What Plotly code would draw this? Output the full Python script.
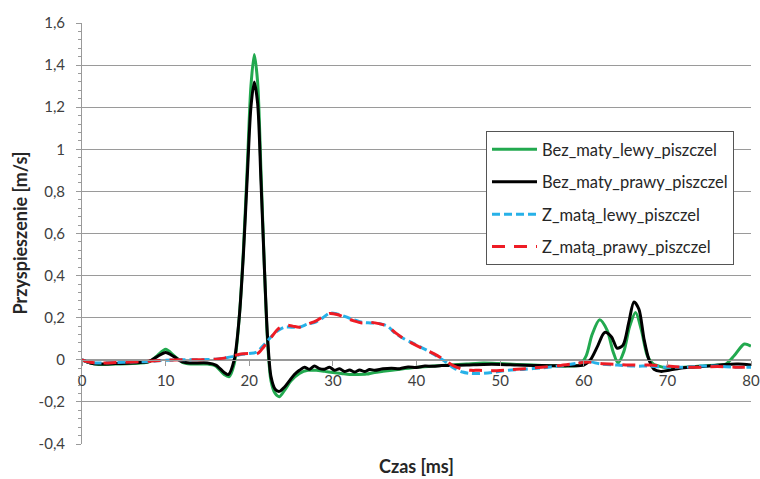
import plotly.graph_objects as go

# Time axis [ms] and acceleration readings [m/s] for each series
green_x = [0, 1, 2, 4, 6, 8, 9, 10, 11, 12, 13, 15, 16, 17, 17.6, 18.2, 18.8, 19.3, 19.8, 20.2,
           20.6, 21.0, 21.4, 21.8, 22.2, 22.6, 23.1, 23.6, 24.3, 25, 26, 27, 28, 29, 30, 31, 32,
           33, 34, 35, 36, 38, 40, 42, 44, 46, 48, 50, 52, 54, 56, 58, 59.5, 60.3, 61, 61.9, 62.8,
           63.5, 64.1, 64.8, 65.5, 66.2, 66.9, 67.6, 68.3, 69, 70, 72, 74, 76, 77, 78, 79.2, 80]
green_y = [0, -0.015, -0.022, -0.02, -0.018, -0.01, 0.02, 0.05, 0.02, -0.012, -0.02, -0.02, -0.03,
           -0.07, -0.08, -0.02, 0.2, 0.52, 0.95, 1.3, 1.45, 1.32, 0.9, 0.45, 0.08, -0.1, -0.16,
           -0.175, -0.14, -0.1, -0.065, -0.05, -0.05, -0.055, -0.06, -0.065, -0.07, -0.07, -0.068,
           -0.06, -0.055, -0.045, -0.035, -0.03, -0.025, -0.02, -0.015, -0.018, -0.022, -0.025,
           -0.028, -0.03, -0.025, 0.02, 0.12, 0.19, 0.14, 0.04, -0.015, 0.04, 0.16, 0.225, 0.14,
           0.02, -0.02, -0.03, -0.04, -0.035, -0.03, -0.025, -0.02, 0.02, 0.075, 0.065]

black_x = [0, 1, 2, 4, 6, 8, 9, 10, 11, 12, 13, 15, 16, 17, 17.5, 18.2, 18.8, 19.3, 19.8, 20.2,
           20.6, 21.0, 21.4, 21.8, 22.2, 22.6, 23.1, 23.6, 24.2, 24.8, 25.4, 26, 26.6, 27.2, 27.8,
           28.4, 29, 29.6, 30.2, 30.8, 31.4, 32, 32.6, 33.2, 33.8, 34.4, 35, 36, 37, 38, 39, 40,
           41, 42, 43, 44, 46, 48, 50, 52, 54, 56, 58, 60, 60.8, 61.6, 62.5, 63.3, 64.0, 64.7,
           65.4, 66.0, 66.6, 67.2, 67.8, 68.4, 69.2, 70.2, 71.5, 73, 75, 77, 78.5, 80]
black_y = [0, -0.015, -0.02, -0.018, -0.015, -0.008, 0.015, 0.035, 0.015, -0.01, -0.015, -0.015,
           -0.025, -0.06, -0.07, 0.0, 0.2, 0.5, 0.9, 1.2, 1.32, 1.22, 0.85, 0.45, 0.1, -0.08,
           -0.14, -0.15, -0.13, -0.1, -0.07, -0.05, -0.035, -0.045, -0.03, -0.042, -0.045, -0.035,
           -0.05, -0.042, -0.056, -0.048, -0.058, -0.048, -0.056, -0.046, -0.05, -0.043, -0.04,
           -0.042, -0.034, -0.036, -0.03, -0.031, -0.027, -0.027, -0.025, -0.022, -0.022, -0.025,
           -0.027, -0.028, -0.028, -0.025, 0.0, 0.06, 0.13, 0.11, 0.055, 0.07, 0.18, 0.275, 0.24,
           0.1, 0.0, -0.045, -0.055, -0.05, -0.04, -0.035, -0.03, -0.022, -0.02, -0.025]

blue_x = [0, 1, 2, 4, 6, 8, 10, 12, 14, 16, 17, 18, 19, 20, 20.8, 21.5, 22.4, 23.3, 24.2, 25,
          26, 27, 28, 28.8, 29.6, 30.5, 31.5, 32.5, 33.5, 34.5, 35.5, 36.5, 37.5, 38.5, 39.5,
          40.5, 41.5, 42.5, 43.5, 44.5, 45.5, 46.5, 47.5, 49, 51, 53, 55, 57, 59, 60.5, 62, 64,
          66, 68, 70, 72, 74, 76, 78, 80]
blue_y = [0, -0.012, -0.015, -0.013, -0.01, -0.008, -0.002, 0, 0, 0.003, 0.008, 0.015, 0.025,
          0.03, 0.035, 0.06, 0.1, 0.135, 0.155, 0.155, 0.155, 0.17, 0.18, 0.2, 0.222, 0.218,
          0.205, 0.19, 0.178, 0.175, 0.172, 0.16, 0.125, 0.1, 0.08, 0.06, 0.04, 0.015, -0.01,
          -0.04, -0.058, -0.065, -0.065, -0.06, -0.05, -0.045, -0.038, -0.03, -0.018, -0.008,
          -0.02, -0.025, -0.03, -0.03, -0.035, -0.035, -0.03, -0.03, -0.035, -0.035]

red_x = [0, 1, 2, 4, 6, 8, 10, 12, 14, 16, 17, 18, 19, 20, 21, 21.7, 22.5, 23.4, 24.3, 25.2,
         26, 27, 28, 28.8, 29.6, 30.5, 31.5, 32.5, 33.5, 34.5, 35.5, 36.5, 37.5, 38.5, 39.5,
         40.5, 41.5, 42.5, 43.5, 44.5, 45.5, 46.5, 47.5, 49, 51, 53, 55, 57, 59, 60.5, 62, 64,
         66, 68, 70, 72, 74, 76, 78, 80]
red_y = [0, -0.012, -0.015, -0.013, -0.01, -0.007, -0.002, 0, 0, 0.003, 0.008, 0.018, 0.028,
         0.03, 0.03, 0.06, 0.1, 0.145, 0.165, 0.16, 0.155, 0.17, 0.185, 0.205, 0.22, 0.215, 0.2,
         0.185, 0.175, 0.178, 0.172, 0.16, 0.128, 0.1, 0.078, 0.058, 0.04, 0.02, -0.005, -0.03,
         -0.045, -0.05, -0.05, -0.052, -0.048, -0.042, -0.035, -0.028, -0.018, -0.01, -0.018,
         -0.022, -0.025, -0.025, -0.03, -0.035, -0.035, -0.032, -0.035, -0.035]

series_names = ["Bez_maty_lewy_piszczel", "Bez_maty_prawy_piszczel",
                "Z_matą_lewy_piszczel", "Z_matą_prawy_piszczel"]

y_tick_vals = [-0.4, -0.2, 0, 0.2, 0.4, 0.6, 0.8, 1.0, 1.2, 1.4, 1.6]
y_tick_text = ["-0,4", "-0,2", "0", "0,2", "0,4", "0,6", "0,8", "1", "1,2", "1,4", "1,6"]
x_tick_vals = [0, 10, 20, 30, 40, 50, 60, 70, 80]
x_tick_text = ["0", "10", "20", "30", "40", "50", "60", "70", "80"]

FONT = "Lato"
TEXT = "#404040"
GRID = "#9a9a9a"

# plot area edges in pixels
LEFT, RIGHT, TOP, BOTTOM = 82, 751, 23, 444
PW, PH = RIGHT - LEFT, BOTTOM - TOP

fig = go.Figure()
styles = [
    (green_x, green_y, dict(color="#22a94f", width=3)),
    (black_x, black_y, dict(color="#000000", width=3)),
    (blue_x, blue_y, dict(color="#27b1e8", width=3, dash="8px,4px")),
    (red_x, red_y, dict(color="#ee1c25", width=3, dash="13px,9px")),
]
for i, (xs, ys, ln) in enumerate(styles):
    ln = dict(ln, shape="spline", smoothing=0.8)
    fig.add_trace(go.Scatter(x=xs, y=ys, mode="lines", name=series_names[i],
                             legendgroup=f"g{i}", line=ln))

fig.update_layout(
    width=760, height=479,
    margin=dict(l=LEFT, r=760 - RIGHT, t=TOP, b=479 - BOTTOM, autoexpand=False),
    paper_bgcolor="white", plot_bgcolor="white",
    font=dict(family=FONT, color=TEXT, size=15),
    showlegend=True,
    legend=dict(
        x=(486 - LEFT) / PW, y=(BOTTOM - 131) / PH, xanchor="left", yanchor="top",
        bgcolor="white", bordercolor="#555555", borderwidth=1,
        font=dict(family=FONT, size=16.5, color="#262626"),
        traceorder="grouped", tracegroupgap=8, itemwidth=45,
    ),
    xaxis=dict(
        range=[0, 80], tickvals=x_tick_vals, ticktext=x_tick_text,
        anchor="free", position=0.2, showline=True, linecolor=GRID, linewidth=1,
        ticks="outside", ticklen=5, tickcolor=GRID, showgrid=False, zeroline=False,
        tickfont=dict(family=FONT, size=15, color=TEXT), ticklabelstandoff=2,
        ticklabeloverflow="allow", automargin=False,
    ),
    yaxis=dict(
        range=[-0.4, 1.6], tickvals=y_tick_vals, ticktext=y_tick_text,
        showline=True, linecolor=GRID, linewidth=1, ticks="outside", ticklen=5,
        tickcolor=GRID, showgrid=True, gridcolor=GRID, gridwidth=1, zeroline=False,
        tickfont=dict(family=FONT, size=15, color=TEXT), ticklabelstandoff=8,
        automargin=False,
        minor=dict(dtick=0.04, ticks="outside", ticklen=3, tickcolor=GRID, showgrid=False),
    ),
)

# Axis titles
fig.add_annotation(text="<b>Czas [ms]</b>", xref="paper", yref="paper",
                   x=0.5, y=(BOTTOM - 466) / PH, xanchor="center", yanchor="middle",
                   showarrow=False, font=dict(family=FONT, size=18, color="#262626"))
fig.add_annotation(text="<b>Przyspieszenie [m/s]</b>", xref="paper", yref="paper",
                   x=(19 - LEFT) / PW, y=0.5, xanchor="center", yanchor="middle",
                   textangle=-90, showarrow=False,
                   font=dict(family=FONT, size=18, color="#262626"))

fig.write_html("out.html")
